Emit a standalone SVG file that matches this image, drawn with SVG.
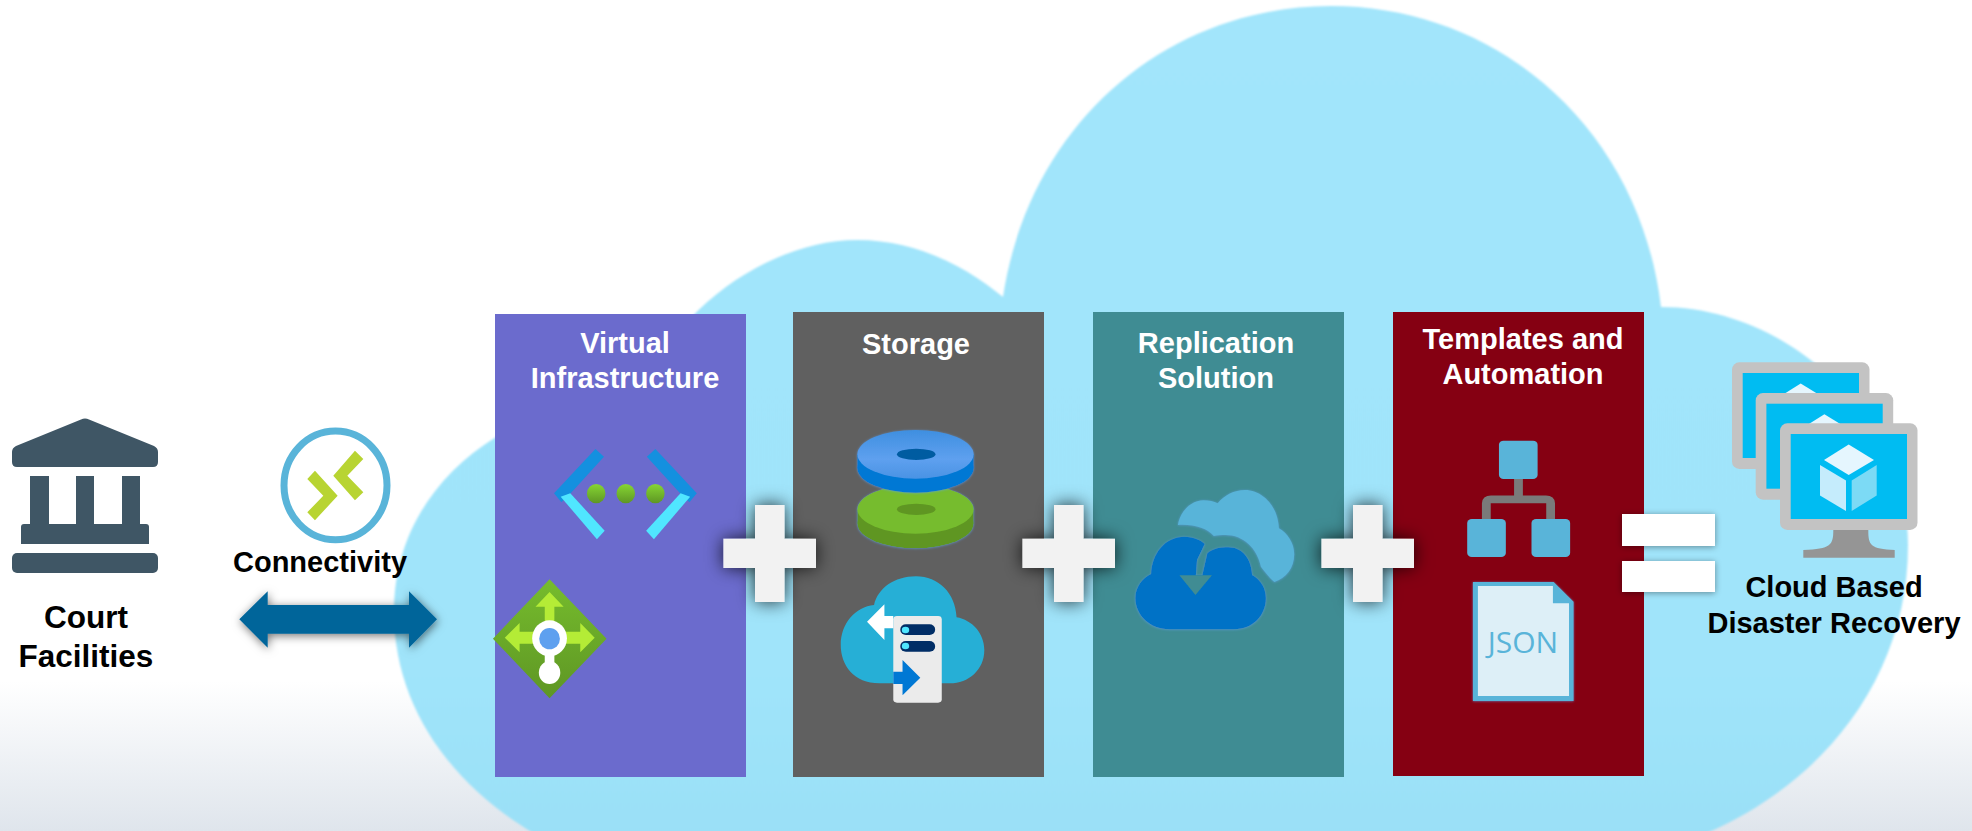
<svg xmlns="http://www.w3.org/2000/svg" xmlns:xlink="http://www.w3.org/1999/xlink" width="1972" height="831" viewBox="0 0 1972 831">
<style>
.t{font-family:"Liberation Sans",Arial,sans-serif;font-weight:700;font-size:29px;text-anchor:middle}
.w{fill:#fff}.k{fill:#000}
.bank{fill:#3f5665}
.sky{fill:#59b4d9}
.wh{fill:#fff}
.lime{fill:#b4ec36}
</style>
<defs>
<linearGradient id="bg" x1="0" y1="0" x2="0" y2="1"><stop offset="0" stop-color="#fff"/><stop offset=".82" stop-color="#fff"/><stop offset="1" stop-color="#dfe5ec"/></linearGradient>
<linearGradient id="cl" x1="0" y1="0" x2="0" y2="1"><stop offset="0" stop-color="#a2e5fb"/><stop offset=".8" stop-color="#a0e4fa"/><stop offset="1" stop-color="#9ae0f7"/></linearGradient>
<linearGradient id="dot" x1="0" y1="0" x2="0" y2="1"><stop offset="0" stop-color="#86d633"/><stop offset="1" stop-color="#5e9624"/></linearGradient>
<linearGradient id="dia" x1="0" y1="0" x2="0" y2="1"><stop offset="0" stop-color="#76bc2d"/><stop offset="1" stop-color="#5e9624"/></linearGradient>
<linearGradient id="disc" x1="0" y1="0" x2="0" y2="1"><stop offset="0" stop-color="#3f8fe0"/><stop offset=".6" stop-color="#5ea0ef"/><stop offset="1" stop-color="#4a93e4"/></linearGradient>
<filter id="sh" x="-40%" y="-40%" width="180%" height="180%"><feDropShadow dx="0" dy="0" stdDeviation="9" flood-color="#000" flood-opacity=".8"/></filter>
<filter id="sh2" x="-20%" y="-40%" width="140%" height="180%"><feDropShadow dx="0" dy="1" stdDeviation="3" flood-color="#000" flood-opacity=".4"/></filter>
<filter id="sh3" x="-20%" y="-40%" width="140%" height="180%"><feDropShadow dx="1" dy="2" stdDeviation="5" flood-color="#000" flood-opacity=".55"/></filter>
<filter id="gl" x="-20%" y="-20%" width="140%" height="140%"><feDropShadow dx="0" dy="1" stdDeviation="3" flood-color="#5ea0ef" flood-opacity=".7"/></filter>
<filter id="sf" x="-5%" y="-5%" width="110%" height="110%"><feGaussianBlur stdDeviation=".9"/></filter>
<path id="plus" d="M755,505H784.500V538.700H816V568H784.500V602H755V568H723.400V538.700H755Z" fill="#f2f2f2" filter="url(#sh)"/>
<g id="vm">
<rect x="0" y="0" width="137.500" height="106.700" rx="7.300" fill="#c3c3c3"/>
<rect x="10.700" y="10.700" width="116.300" height="85" fill="#00bcf2"/>
<path d="M68.700,21.300 94,36.700 68.700,51.800 44,36.700Z" fill="#e5f6fe"/>
<path d="M40,41.700 66,57.300V87.700L40,72.300Z" fill="#c5ecfc"/>
<path d="M71.700,57.300 96.700,41.700V72.300L71.700,87.700Z" fill="#7cdaf5"/>
</g>
</defs>
<rect id="background" width="1972" height="831" fill="url(#bg)"/>
<path id="cloud" fill="url(#cl)" filter="url(#sf)" d="M545,840C455,790 394,710 394,612C394,535 435,475 496,437C540,410 600,400 640,400C670,310 770,240 857,240C920,240 970,270 1003,297C1030,120 1170,6 1331,6C1500,6 1640,130 1661,307C1790,307 1908,420 1908,545C1908,680 1820,790 1690,840Z"/>

<g id="node-court">
<path class="bank" d="M81,419.500Q85,417.500 89,419.500L154,446Q158,448 158,452V462Q158,467 153,467H17Q12,467 12,462V452Q12,448 16,446Z"/>
<rect class="bank" x="30" y="476" width="19" height="50"/>
<rect class="bank" x="76" y="476" width="18" height="50"/>
<rect class="bank" x="122" y="476" width="18" height="50"/>
<path class="bank" d="M24,524H146Q149,524 149,527V544H21V527Q21,524 24,524Z"/>
<rect class="bank" x="12" y="553" width="146" height="20" rx="5"/>
<text class="t k" style="font-size:31.500px" x="86" y="628">Court</text>
<text class="t k" style="font-size:31.500px" x="86" y="667">Facilities</text>
</g>

<g id="node-connectivity">
<ellipse cx="335.500" cy="485.400" rx="51.500" ry="54.300" fill="none" stroke="#59b4d9" stroke-width="7"/>
<g transform="translate(0,380) scale(.3333)" fill="#b8d432">
<path d="M1000,287 1065,212 1090,237 1042,287 1090,337 1065,361Z"/>
<path d="M1013,347 945,272 922,297 970,347 922,397 945,421Z"/>
</g>
<text class="t k" x="320" y="572">Connectivity</text>
</g>

<g id="node-virtual">
<rect x="495" y="314" width="251" height="463" fill="#6b6bcd"/>
<text class="t w" x="625" y="353">Virtual</text>
<text class="t w" x="625" y="388">Infrastructure</text>
<g transform="translate(480,300) scale(.37,.3333)">
<path fill="#1490df" d="M200,580 312,447 335,470 244,581 220,607Z"/>
<path fill="#1490df" d="M586,580 474,447 451,470 542,581 566,607Z"/>
<path fill="#50e6ff" d="M218,590 244,580 337,692 316,718Z"/>
<path fill="#50e6ff" d="M568,590 542,580 449,692 470,718Z"/>
<ellipse cx="314" cy="581" rx="25" ry="29" fill="url(#dot)"/>
<ellipse cx="394" cy="581" rx="25" ry="29" fill="url(#dot)"/>
<ellipse cx="474" cy="581" rx="25" ry="29" fill="url(#dot)"/>
<path fill="url(#dia)" d="M188,838 342,1016 188,1195 35,1016Z"/>
<path class="lime" d="M188,876 226,920H201V990H175V920H150Z"/>
<path class="lime" d="M67,1013 107,969V995H160V1031H107V1057Z"/>
<path class="lime" d="M310,1013 271,969V995H216V1031H271V1057Z"/>
<rect class="wh" x="175" y="1050" width="26" height="50"/>
<ellipse class="wh" cx="188" cy="1118" rx="29" ry="34"/>
<ellipse class="wh" cx="188" cy="1015" rx="47" ry="54"/>
<ellipse cx="188" cy="1016" rx="28" ry="32" fill="#5ea0ef"/>
</g>
</g>

<g id="node-storage">
<rect x="793" y="312" width="251" height="465" fill="#606060"/>
<text class="t w" x="916" y="354">Storage</text>
<g transform="translate(480,300) scale(.37,.3333)">
<g filter="url(#gl)">
<ellipse cx="1177" cy="672" rx="157" ry="73" fill="#5e9624"/>
<rect x="1020" y="628" width="314" height="44" fill="#5e9624"/>
<ellipse cx="1177" cy="628" rx="157" ry="73" fill="#76bc2d"/>
<ellipse cx="1179" cy="628" rx="52" ry="17" fill="#5e9624"/>
</g>
<g filter="url(#gl)">
<ellipse cx="1177" cy="505" rx="157" ry="73" fill="#0078d4"/>
<rect x="1020" y="463" width="314" height="42" fill="#0078d4"/>
<ellipse cx="1177" cy="463" rx="157" ry="73" fill="url(#disc)"/>
<ellipse cx="1179" cy="463" rx="52" ry="17" fill="#005ba1"/>
</g>
<path fill="#26afd6" d="M1080,1150C1010,1150 975,1095 975,1035C975,970 1015,920 1065,915C1075,865 1120,829 1178,829C1240,829 1285,880 1288,952C1330,960 1363,1000 1363,1050C1363,1110 1320,1150 1270,1150Z"/>
<rect x="1117" y="948" width="131" height="260" rx="10" fill="#ebebeb"/>
<path class="wh" d="M1046,965 1093,913V948H1117V985H1093V1020Z"/>
<rect x="1136" y="973" width="94" height="32" rx="15" fill="#002d66"/>
<rect x="1136" y="1023" width="94" height="32" rx="15" fill="#002d66"/>
<ellipse cx="1150" cy="990" rx="10" ry="10" fill="#50e6ff"/>
<ellipse cx="1150" cy="1038" rx="10" ry="10" fill="#50e6ff"/>
<path fill="#0078d4" d="M1190,1133 1142,1080V1115H1117V1152H1142V1186Z"/>
</g>
</g>

<g id="node-replication">
<rect x="1093" y="312" width="251" height="465" fill="#3f8c93"/>
<text class="t w" x="1216" y="353">Replication</text>
<text class="t w" x="1216" y="388">Solution</text>
<g transform="translate(1060,300) scale(.3827,.3333)" filter="url(#gl)">
<path class="sky" d="M308,675C315,630 345,601 375,601C390,601 402,605 412,610C430,585 455,570 483,570C530,570 570,620 572,685C595,700 612,730 612,762C612,805 590,835 560,846C545,830 535,815 525,800C515,745 480,705 432,705C420,705 410,706 402,708C385,685 350,672 308,675Z"/>
<path fill="#0072c6" d="M285,988C235,988 197,945 197,895C197,860 215,835 238,822C240,760 275,710 325,710C350,710 370,722 378,732L358,780 355,826H372L385,760C400,745 420,742 440,742C475,742 500,775 502,825C525,840 538,865 538,895C538,945 505,988 455,988Z"/>
<path fill="#3f8c93" d="M312,826H397L354,885Z"/>
</g>
</g>

<g id="node-templates">
<rect x="1393" y="312" width="251" height="464" fill="#850012"/>
<text class="t w" x="1523" y="349">Templates and</text>
<text class="t w" x="1523" y="384">Automation</text>
<g transform="translate(1060,300) scale(.3827,.3333)">
<path fill="none" stroke="#7a7a7a" stroke-width="23" d="M1198,537V598M1114,660V610Q1114,598 1126,598H1270Q1282,598 1282,610V660"/>
<rect class="sky" x="1147" y="422" width="101" height="115" rx="12"/>
<rect class="sky" x="1064" y="657" width="101" height="114" rx="12"/>
<rect class="sky" x="1232" y="657" width="101" height="114" rx="12"/>
<path class="sky" d="M1079,846H1290L1342,905V1203H1079Z" filter="url(#gl)"/>
<path fill="#ddeff7" d="M1092,858H1288V910H1330V1188H1092Z"/>
</g>
<text x="1523" y="653" font-family="'Open Sans',sans-serif" font-size="30" font-weight="500" fill="#59b4d9" text-anchor="middle">JSON</text>
</g>

<g id="operators">
<use xlink:href="#plus" href="#plus"/>
<use xlink:href="#plus" href="#plus" x="299"/>
<use xlink:href="#plus" href="#plus" x="598"/>
<rect x="1622" y="514" width="93" height="32" fill="#fff" filter="url(#sh2)"/>
<rect x="1622" y="561" width="93" height="31" fill="#fff" filter="url(#sh2)"/>
</g>

<g id="node-dr">
<use xlink:href="#vm" href="#vm" x="1732" y="362.300"/>
<use xlink:href="#vm" href="#vm" x="1755.700" y="393"/>
<path fill="#959595" d="M1833.300,530H1868.300C1868.300,545 1870,549 1895,550H1894.700V557.700H1803.300V550C1831,549 1833.300,545 1833.300,530Z"/>
<use xlink:href="#vm" href="#vm" x="1780" y="423.300"/>
<text class="t k" x="1834" y="597">Cloud Based</text>
<text class="t k" x="1834" y="633">Disaster Recovery</text>
</g>

<g id="connectors">
<path fill="#02659a" filter="url(#sh3)" d="M239.300,619.300 267.700,591.300V605H409V591.300L437,619.300 409,647.700V633.700H267.700V647.700Z"/>
</g>
</svg>
